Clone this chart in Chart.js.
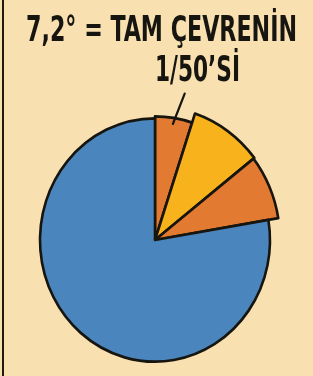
<!DOCTYPE html>
<html>
<head>
<meta charset="utf-8">
<script src="https://cdn.jsdelivr.net/npm/chart.js@4.4.1/dist/chart.umd.min.js"></script>
<style>
  html, body { margin: 0; padding: 0; background: #f9e0b0; }
  #wrap { position: relative; width: 313px; height: 376px; overflow: hidden; }
  #edge { position: absolute; left: 2px; top: 0; width: 2px; height: 376px; background: #1d1a14; }
  canvas { position: absolute; left: 0; top: 0; }
</style>
</head>
<body>
<div id="wrap">
  <canvas id="pie" width="313" height="376"></canvas>
  <div id="edge"></div>
</div>
<script>
// slices in degrees (clockwise from 12 o'clock)
const categories = ['7,2°', 'dilim 2', 'dilim 3', 'geri kalan'];
const sliceValues = [18.5, 33.5, 28.5, 279.5];
const titleLines = ['7,2° = TAM ÇEVRENİN', '1/50’Sİ'];

const sliceColors = ['#e27a31', '#f8b21b', '#e27a31', '#4a86bd'];
const radiusScale = [1.017, 1.096, 1.087, 1];   // outer slices stick out a bit
const stretchY = 1.058;                          // the picture is a little taller than wide
const ink = '#17150f';

// make every slice its own radius
const sliceRadius = {
    id: 'sliceRadius',
    afterDatasetsUpdate(chart) {
        const meta = chart.getDatasetMeta(0);
        meta.data.forEach((arc, i) => {
            arc.outerRadius = arc.outerRadius * radiusScale[i];
        });
    },
    beforeDatasetsDraw(chart) {
        const arc = chart.getDatasetMeta(0).data[0];
        const ctx = chart.ctx;
        ctx.save();
        ctx.translate(arc.x, arc.y);
        ctx.scale(1, stretchY);
        ctx.translate(-arc.x, -arc.y);
    },
    afterDatasetsDraw(chart) {
        const ctx = chart.ctx;
        ctx.restore();
        // leader line from the caption down into the small slice
        const arc = chart.getDatasetMeta(0).data[0];
        const mid = (arc.startAngle + arc.endAngle) / 2;
        const r = arc.outerRadius;
        const a2 = mid + 0.05;
        ctx.save();
        ctx.strokeStyle = ink;
        ctx.lineWidth = 2.2;
        ctx.lineCap = 'round';
        ctx.beginPath();
        ctx.moveTo(arc.x + Math.cos(a2) * r * 1.21, arc.y + Math.sin(a2) * r * 1.21 * stretchY);
        ctx.lineTo(arc.x + Math.cos(mid) * r * 0.95, arc.y + Math.sin(mid) * r * 0.95 * stretchY);
        ctx.stroke();
        ctx.restore();
    }
};

// caption, each line squeezed to the width it has in the picture
const caption = {
    id: 'caption',
    afterDraw(chart) {
        const ctx = chart.ctx;
        const spots = [
            {left: 26, right: 297, base: 41},
            {left: 155, right: 240, base: 81}
        ];
        ctx.save();
        ctx.fillStyle = ink;
        ctx.font = 'bold 36px "Liberation Sans Narrow", "DejaVu Sans Condensed", sans-serif';
        ctx.textBaseline = 'alphabetic';
        titleLines.forEach((txt, i) => {
            const s = spots[i];
            const w = ctx.measureText(txt).width;
            ctx.save();
            ctx.translate(s.left, s.base);
            ctx.scale((s.right - s.left) / w, 1);
            ctx.fillText(txt, 0, 0);
            ctx.restore();
        });
        ctx.restore();
    }
};

const chart = new Chart(document.getElementById('pie'), {
    type: 'pie',
    data: {
        labels: categories,
        datasets: [{
            data: sliceValues,
            backgroundColor: sliceColors,
            borderColor: ink,
            borderWidth: 2.6,
            borderJoinStyle: 'round',
            clip: false
        }]
    },
    options: {
        responsive: false,
        animation: false,
        radius: 115,
        layout: { padding: { left: 0, right: 3, top: 104, bottom: 0 } },
        plugins: {
            legend: { display: false },
            tooltip: { enabled: false },
            title: { display: false }
        }
    },
    plugins: [sliceRadius, caption]
});
</script>
</body>
</html>
